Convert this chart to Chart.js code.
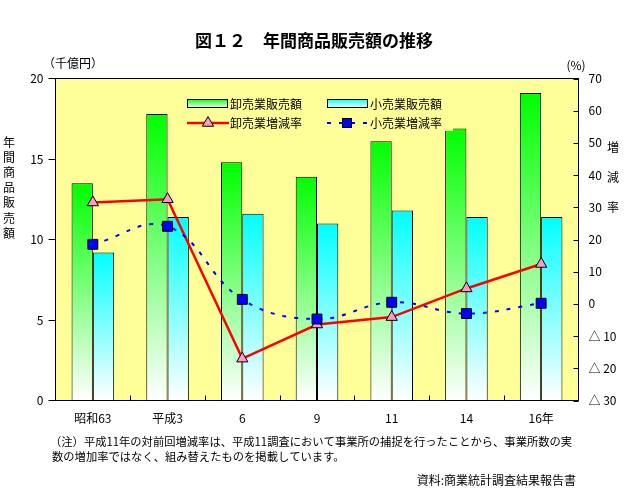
<!DOCTYPE html>
<html>
<head>
<meta charset="utf-8">
<script src="https://cdn.jsdelivr.net/npm/chart.js@4.4.0/dist/chart.umd.min.js"></script>
<style>
  html, body { margin: 0; padding: 0; background: #fff; }
</style>
</head>
<body>
<canvas id="salesChart" width="634" height="496"></canvas>
<script>
// data
var categories = ["昭和63", "平成3", "6", "9", "11", "14", "16年"];
var wholesaleSales = [13.5, 17.8, 14.8, 13.9, 16.1, 16.9, 19.1];   // 千億円
var retailSales = [9.2, 11.4, 11.6, 11.0, 11.8, 11.4, 11.4];
var wholesaleRate = [31.5, 32.5, -17.0, -6.4, -4.1, 4.8, 12.4];    // %
var retailRate = [18.5, 24.1, 1.4, -4.7, 0.5, -3.0, 0.2];
var leftTicks = [0, 5, 10, 15, 20];
var rightTicks = [-30, -20, -10, 0, 10, 20, 30, 40, 50, 60, 70];

var FONT = "'Noto Sans CJK JP', 'Noto Sans', sans-serif";
var plotBg = "#ffff99";

// vertical gradient per bar: solid colour at top, white at the base
function barFill(topColor) {
  return function (c) {
    var chart = c.chart;
    if (!chart.chartArea || c.type !== 'data') return topColor;
    var y = chart.scales.y;
    var top = y.getPixelForValue(c.raw);
    var base = y.getPixelForValue(0);
    var g = chart.ctx.createLinearGradient(0, top, 0, base);
    g.addColorStop(0, topColor);
    g.addColorStop(1, "#ffffff");
    return g;
  };
}

function triangle(ctx, x, y, r) {
  ctx.beginPath();
  ctx.moveTo(x, y - r);
  ctx.lineTo(x + r * 0.866, y + r * 0.5);
  ctx.lineTo(x - r * 0.866, y + r * 0.5);
  ctx.closePath();
  ctx.fillStyle = "#ff99cc";
  ctx.fill();
  ctx.lineWidth = 1;
  ctx.strokeStyle = "#000";
  ctx.stroke();
}

var decor = {
  id: 'decor',
  beforeDraw: function (chart) {
    var ctx = chart.ctx, a = chart.chartArea;
    ctx.save();
    ctx.fillStyle = "#fff";
    ctx.fillRect(0, 0, chart.width, chart.height);
    ctx.fillStyle = plotBg;
    ctx.fillRect(a.left, a.top, a.right - a.left, a.bottom - a.top);
    ctx.restore();
  },
  afterDatasetsDraw: function (chart) {
    var ctx = chart.ctx, a = chart.chartArea;
    ctx.save();
    // legend box
    ctx.fillStyle = plotBg;
    ctx.fillRect(181, 91, 272, 40);
    var boxes = [[187, "#00ff00", "卸売業販売額"], [327, "#00ffff", "小売業販売額"]];
    boxes.forEach(function (b) {
      var g = ctx.createLinearGradient(0, 99, 0, 108);
      g.addColorStop(0, b[1]);
      g.addColorStop(1, "#ffffff");
      ctx.fillStyle = g;
      ctx.fillRect(b[0], 99, 41, 9);
      ctx.strokeStyle = "#000";
      ctx.lineWidth = 1;
      ctx.strokeRect(b[0] + 0.5, 99.5, 40, 8);
      ctx.fillStyle = "#000";
      ctx.font = "12px " + FONT;
      ctx.textBaseline = "middle";
      ctx.textAlign = "left";
      ctx.fillText(b[2], b[0] + 43, 104);
    });
    // red line item
    ctx.strokeStyle = "#ff0000";
    ctx.lineWidth = 2.5;
    ctx.beginPath(); ctx.moveTo(187, 123); ctx.lineTo(229, 123); ctx.stroke();
    triangle(ctx, 208, 123, 6.5);
    // blue dashed item
    ctx.strokeStyle = "#0000ff";
    ctx.lineWidth = 2;
    ctx.setLineDash([4, 8]);
    ctx.beginPath(); ctx.moveTo(327, 123); ctx.lineTo(368, 123); ctx.stroke();
    ctx.setLineDash([]);
    ctx.fillStyle = "#0000ff";
    ctx.fillRect(342.5, 118.5, 9, 9);
    ctx.strokeStyle = "#000"; ctx.lineWidth = 1;
    ctx.strokeRect(342.5, 118.5, 9, 9);
    ctx.fillStyle = "#000";
    ctx.font = "12px " + FONT;
    ctx.textBaseline = "middle";
    ctx.fillText("卸売業増減率", 230, 123);
    ctx.fillText("小売業増減率", 370, 123);
    ctx.restore();
  },
  afterDraw: function (chart) {
    var ctx = chart.ctx, a = chart.chartArea;
    ctx.save();
    ctx.strokeStyle = "#000";
    ctx.lineWidth = 1;
    // top border
    ctx.beginPath(); ctx.moveTo(a.left, a.top); ctx.lineTo(a.right, a.top); ctx.stroke();
    // inward ticks on right axis
    var y2 = chart.scales.y2;
    y2.ticks.forEach(function (t) {
      var py = Math.round(y2.getPixelForValue(t.value)) + 0.5;
      ctx.beginPath(); ctx.moveTo(a.right - 5, py); ctx.lineTo(a.right, py); ctx.stroke();
    });
    // inward ticks on the category axis, at group boundaries
    var x = chart.scales.x;
    var step = (a.right - a.left) / categories.length;
    for (var i = 1; i < categories.length; i++) {
      var px = Math.round(a.left + step * i) + 0.5;
      ctx.beginPath(); ctx.moveTo(px, a.bottom - 5); ctx.lineTo(px, a.bottom); ctx.stroke();
    }

    ctx.fillStyle = "#000";
    ctx.textBaseline = "middle";
    ctx.textAlign = "center";
    ctx.font = "bold 17px " + FONT;
    ctx.fillText("図１２　年間商品販売額の推移", 314, 41);
    ctx.font = "12px " + FONT;
    ctx.fillText("（千億円）", 73, 63);
    ctx.fillText("(%)", 576, 65);
    // vertical axis titles
    "年間商品販売額".split("").forEach(function (ch, i) {
      ctx.fillText(ch, 9, 142 + i * 15.2);
    });
    "増減率".split("").forEach(function (ch, i) {
      ctx.fillText(ch, 613, 147 + i * 30);
    });
    // note and source
    ctx.textAlign = "left";
    ctx.font = "11.3px " + FONT;
    ctx.fillText("（注）平成11年の対前回増減率は、平成11調査において事業所の捕捉を行ったことから、事業所数の実", 50, 442);
    ctx.fillText("数の増加率ではなく、組み替えたものを掲載しています。", 52, 457);
    ctx.textAlign = "right";
    ctx.font = "12px " + FONT;
    ctx.fillText("資料:商業統計調査結果報告書", 576, 480);
    ctx.restore();
  }
};

var salesChart = new Chart(document.getElementById("salesChart"), {
  type: 'bar',
  data: {
    labels: categories,
    datasets: [
      {
        type: 'bar', label: '卸売業販売額', data: wholesaleSales, yAxisID: 'y',
        backgroundColor: barFill("#00ff00"), borderColor: "#000", borderWidth: 1,
        categoryPercentage: 0.57, barPercentage: 1.0, order: 3
      },
      {
        type: 'bar', label: '小売業販売額', data: retailSales, yAxisID: 'y',
        backgroundColor: barFill("#00ffff"), borderColor: "#000", borderWidth: 1,
        categoryPercentage: 0.57, barPercentage: 1.0, order: 3
      },
      {
        type: 'line', label: '卸売業増減率', data: wholesaleRate, yAxisID: 'y2',
        borderColor: "#ff0000", borderWidth: 2.5, tension: 0,
        pointStyle: 'triangle', pointRadius: 6.5, pointBackgroundColor: "#ff99cc",
        pointBorderColor: "#000", pointBorderWidth: 1, order: 2
      },
      {
        type: 'line', label: '小売業増減率', data: retailRate, yAxisID: 'y2',
        borderColor: "#0000ff", borderWidth: 2, borderDash: [4, 8], tension: 0.4,
        pointStyle: 'rect', pointRadius: 7, pointBackgroundColor: "#0000ff",
        pointBorderColor: "#000", pointBorderWidth: 1, order: 1
      }
    ]
  },
  options: {
    responsive: false,
    animation: false,
    devicePixelRatio: 1,
    layout: { padding: { top: 78.5, left: 0, right: 0, bottom: 0 } },
    plugins: { legend: { display: false }, tooltip: { enabled: false } },
    scales: {
      x: {
        offset: true,
        grid: { display: true, drawOnChartArea: false, drawTicks: false, color: "#000" },
        border: { display: true, color: "#000", width: 1 },
        ticks: { color: "#000", font: { size: 12, family: FONT }, padding: 11, maxRotation: 0, autoSkip: false },
        afterFit: function (s) { s.height = 95.5; }
      },
      y: {
        position: 'left', min: 0, max: 20,
        afterBuildTicks: function (s) { s.ticks = leftTicks.map(function (v) { return { value: v }; }); },
        grid: { drawOnChartArea: false, tickLength: 7, color: "#000" },
        border: { display: true, color: "#000", width: 1 },
        ticks: { color: "#000", font: { size: 12, family: FONT }, padding: 5 },
        afterFit: function (s) { s.width = 55.5; }
      },
      y2: {
        position: 'right', min: -30, max: 70,
        afterBuildTicks: function (s) { s.ticks = rightTicks.map(function (v) { return { value: v }; }); },
        grid: { drawOnChartArea: false, drawTicks: false, color: "#000" },
        border: { display: true, color: "#000", width: 1 },
        ticks: {
          color: "#000", font: { size: 12, family: FONT }, padding: 10,
          callback: function (v) { return v < 0 ? "△ " + (-v) : String(v); }
        },
        afterFit: function (s) { s.width = 55.5; }
      }
    }
  },
  plugins: [decor]
});
</script>
</body>
</html>
